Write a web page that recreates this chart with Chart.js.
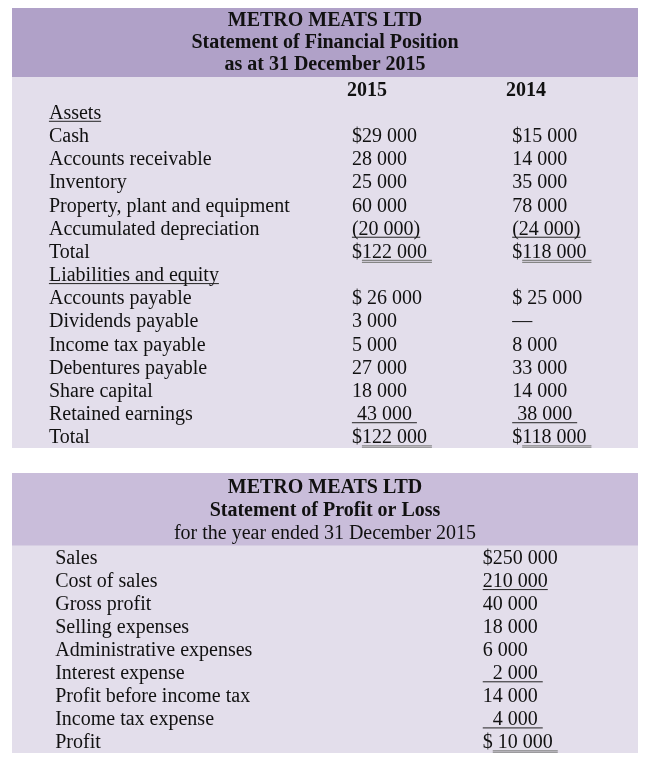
<!DOCTYPE html>
<html>
<head>
<meta charset="utf-8">
<script src="https://cdn.jsdelivr.net/npm/chart.js@4.4.1/dist/chart.umd.min.js"></script>
<style>
  body { margin: 0; background: #fff; width: 650px; height: 762px; position: relative; overflow: hidden; }
  .box { position: absolute; left: 12px; width: 626px; }
  #bsBox { top: 8px; height: 440px; }
  #plBox { top: 473px; height: 280px; }
</style>
</head>
<body>
<div class="box" id="bsBox"><canvas id="bsChart"></canvas></div>
<div class="box" id="plBox"><canvas id="plChart"></canvas></div>
<script>
// statement of financial position
const bsYears = ['2015', '2014'];
const bsRows = ['Assets', 'Cash', 'Accounts receivable', 'Inventory', 'Property, plant and equipment',
  'Accumulated depreciation', 'Total', 'Liabilities and equity', 'Accounts payable', 'Dividends payable',
  'Income tax payable', 'Debentures payable', 'Share capital', 'Retained earnings', 'Total'];
const bs2015 = [null, 29000, 28000, 25000, 60000, -20000, 122000, null, 26000, 3000, 5000, 27000, 18000, 43000, 122000];
const bs2014 = [null, 15000, 14000, 35000, 78000, -24000, 118000, null, 25000, 0, 8000, 33000, 14000, 38000, 118000];
// how each row gets printed
const bsStyle = ['head', '$', '', '', '', 'neg', 'total', 'head', '$ ', '', '', '', '', 'sub', 'total'];

// statement of profit or loss
const plRows = ['Sales', 'Cost of sales', 'Gross profit', 'Selling expenses', 'Administrative expenses',
  'Interest expense', 'Profit before income tax', 'Income tax expense', 'Profit'];
const plValues = [250000, 210000, 40000, 18000, 6000, 2000, 14000, 4000, 10000];
const plStyle = ['$', 'u', '', '', '', 'sub', '', 'sub', 'total2'];

// column anchors as a share of table width
const bsCols = { label: 0.059, y2015: 0.543, y2014: 0.799, h2015: 0.567, h2014: 0.821 };
const plCols = { label: 0.069, value: 0.752 };

const serif = "'Liberation Serif', 'Times New Roman', serif";

function num(v) {
  return String(Math.abs(v)).replace(/\B(?=(\d{3})+(?!\d))/g, ' ');
}

function cell(v, style) {
  if (v === null) return null;
  if (v === 0) return { pre: '\u2014', u: '' };
  const n = num(v);
  switch (style) {
    case '$': return { pre: '$' + n, u: '' };
    case '$ ': return { pre: '$ ' + n, u: '' };
    case 'neg': return { pre: '', u: '(' + n + ')', kind: 'single' };
    case 'u': return { pre: '', u: n, kind: 'single' };
    case 'sub': return { pre: '', u: n.padStart(7, ' ') + ' ', kind: 'single' };
    case 'total': return { pre: '$', u: n + ' ', kind: 'double' };
    case 'total2': return { pre: '$', u: ' ' + n + ' ', kind: 'double' };
    default: return { pre: n, u: '' };
  }
}

function labelCell(text, style) {
  return style === 'head' ? { pre: '', u: text, kind: 'single' } : { pre: text, u: '' };
}

// one invisible point per cell, the plugin writes the text at the point
function textSet(cells, x, rowOffset, opts) {
  const data = [];
  const keep = [];
  cells.forEach((c, i) => {
    if (!c) return;
    data.push({ x: x, y: i + rowOffset });
    keep.push(c);
  });
  return Object.assign({ type: 'scatter', data: data, cells: keep, pointRadius: 0, align: 'left', bold: false }, opts || {});
}

const tablePlugin = {
  id: 'tableText',
  beforeDraw(chart, args, opts) {
    const { ctx, width, height, chartArea } = chart;
    ctx.save();
    ctx.fillStyle = opts.body;
    ctx.fillRect(0, 0, width, height);
    ctx.fillStyle = opts.band;
    ctx.fillRect(0, 0, width, chartArea.top);
    ctx.restore();
  },
  afterDatasetsDraw(chart) {
    const ctx = chart.ctx;
    ctx.save();
    chart.data.datasets.forEach((ds, i) => {
      const meta = chart.getDatasetMeta(i);
      ctx.font = (ds.bold ? 'bold ' : '') + '20px ' + serif;
      ctx.fillStyle = '#111';
      ctx.textBaseline = 'alphabetic';
      meta.data.forEach((el, j) => {
        const c = ds.cells[j];
        const full = c.pre + c.u;
        const w = ctx.measureText(full).width;
        let x = el.x;
        if (ds.align === 'center') x -= w / 2;
        const base = el.y + 7;
        ctx.textAlign = 'left';
        ctx.fillText(full, x, base);
        if (c.u) {
          const x0 = x + ctx.measureText(c.pre).width;
          const x1 = x + w;
          if (c.kind === 'double') {
            ctx.strokeStyle = '#858585';
            ctx.lineWidth = 1.2;
            [2.5, 4.5].forEach(d => {
              ctx.beginPath(); ctx.moveTo(x0, base + d); ctx.lineTo(x1, base + d); ctx.stroke();
            });
          } else {
            ctx.strokeStyle = '#222';
            ctx.lineWidth = 1;
            ctx.beginPath(); ctx.moveTo(x0, base + 2.5); ctx.lineTo(x1, base + 2.5); ctx.stroke();
          }
        }
      });
    });
    ctx.restore();
  }
};

function baseOptions(rows, band) {
  return {
    responsive: true,
    maintainAspectRatio: false,
    animation: false,
    events: [],
    layout: { padding: 0 },
    scales: {
      x: { type: 'linear', min: 0, max: 1, display: false },
      y: { type: 'linear', min: -0.5, max: rows - 0.5, reverse: true, display: false }
    },
    plugins: {
      legend: { display: false },
      tooltip: { enabled: false },
      tableText: { band: band, body: '#e3deeb' }
    }
  };
}

// balance sheet chart: row 0 holds the year headings
const bsOpts = baseOptions(bsRows.length + 1, '#b0a1c8');
bsOpts.plugins.title = {
  display: true,
  text: ['METRO MEATS LTD', 'Statement of Financial Position', 'as at 31 December 2015'],
  color: '#111',
  font: { family: serif, size: 20, weight: 'bold', lineHeight: 1.1 },
  padding: { top: 2, bottom: 1 }
};

new Chart(document.getElementById('bsChart'), {
  type: 'scatter',
  data: {
    datasets: [
      textSet([{ pre: bsYears[0], u: '' }], bsCols.h2015, 0, { align: 'center', bold: true }),
      textSet([{ pre: bsYears[1], u: '' }], bsCols.h2014, 0, { align: 'center', bold: true }),
      textSet(bsRows.map((r, i) => labelCell(r, bsStyle[i])), bsCols.label, 1),
      textSet(bs2015.map((v, i) => cell(v, bsStyle[i])), bsCols.y2015, 1),
      textSet(bs2014.map((v, i) => cell(v, bsStyle[i])), bsCols.y2014, 1)
    ]
  },
  options: bsOpts,
  plugins: [tablePlugin]
});

// profit or loss chart
const plOpts = baseOptions(plRows.length, '#c9bdda');
plOpts.plugins.title = {
  display: true,
  text: ['METRO MEATS LTD', 'Statement of Profit or Loss'],
  color: '#111',
  font: { family: serif, size: 20, weight: 'bold', lineHeight: 1.15 },
  padding: { top: 3.5, bottom: 0 }
};
plOpts.plugins.subtitle = {
  display: true,
  text: 'for the year ended 31 December 2015',
  color: '#111',
  font: { family: serif, size: 20, weight: 'normal', lineHeight: 1.15 },
  padding: { top: 0, bottom: 0 }
};

new Chart(document.getElementById('plChart'), {
  type: 'scatter',
  data: {
    datasets: [
      textSet(plRows.map(r => labelCell(r, '')), plCols.label, 0),
      textSet(plValues.map((v, i) => cell(v, plStyle[i])), plCols.value, 0)
    ]
  },
  options: plOpts,
  plugins: [tablePlugin]
});
</script>
</body>
</html>
